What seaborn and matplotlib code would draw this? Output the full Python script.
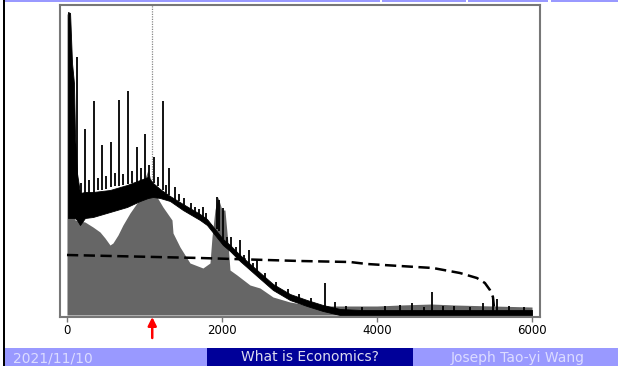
import matplotlib
matplotlib.use("Agg")
import matplotlib.pyplot as plt
import seaborn as sns
import pandas as pd
from matplotlib.patches import Rectangle

# ---------------- data ----------------
gray_x = [0, 40, 80, 103, 232, 335, 426, 490, 555, 593, 658, 722, 813, 903, 980, 1006,
          1045, 1097, 1161, 1238, 1355, 1368, 1458, 1587, 1754, 1845, 1871, 1909, 1948,
          2000, 2038, 2077, 2103, 2193, 2361, 2490, 2658, 2877, 3174, 3522, 4000, 4300,
          4700, 5000, 5500, 6000]
gray_y = [300, 290, 150, 93, 91, 86, 81, 75, 68, 70, 78, 88, 100, 110, 115, 135,
          143, 130, 116, 106, 93, 80, 66, 50, 45, 50, 76, 103, 116,
          103, 103, 70, 43, 38, 28, 25, 16, 11, 7, 7, 7, 8,
          9, 8, 7, 6]
gray_base = -2

band_x = [13, 40, 65, 90, 103, 129, 168, 232, 335, 555, 774, 942, 1045, 1110, 1200,
          1329, 1496, 1716, 1806, 1909, 2012, 2103, 2232, 2451, 2658, 2877, 3096, 3302,
          3522, 3800, 4296, 5000, 6000]
band_hi = [301, 300, 250, 230, 180, 140, 120, 121, 121, 123, 128, 133, 136, 130, 124,
           117, 109, 99, 94, 84, 74, 68, 58, 43, 29, 19, 13, 8,
           4, 3, 3, 3, 3]
band_lo = [95, 95, 95, 95, 95, 93, 88, 95, 96, 101, 106, 112, 115, 116, 115,
           112, 103, 93, 88, 78, 68, 62, 52, 37, 23, 13, 7, 2,
           -2, -2, -2, -2, -2]

spike_x = [129, 232, 348, 452, 568, 671, 787, 903, 1006, 1122, 1238, 1316, 1394, 1509,
           1651, 1754, 1935, 1961, 2012, 2116, 2232, 2348, 2451, 3328, 3457, 4451, 4709,
           4992, 5366, 5496, 5547,
           180, 280, 400, 500, 620, 720, 840, 950, 1060, 1180, 1280, 1450, 1600, 1700,
           1800, 2060, 2180, 2290, 2400, 2550, 2700, 2850, 3000, 3150, 3600, 3800, 4100,
           4300, 4600, 4850, 5200, 5700, 5900]
spike_base = [118, 118, 120, 123, 126, 127, 129, 131, 133, 130, 123, 118, 113, 108,
              101, 96, 84, 82, 74, 66, 57, 49, 42, 6, 3, 2, 2,
              2, 2, 2, 2,
              118, 120, 123, 124, 127, 128, 130, 132, 133, 127, 120, 112, 104, 98,
              94, 70, 61, 53, 45, 35, 26, 19, 15, 11, 3, 2, 2,
              2, 2, 2, 2, 2, 2]
spike_top = [256, 184, 212, 168, 171, 213, 222, 166, 179, 156, 212, 145, 126, 115,
             106, 106, 116, 113, 105, 76, 73, 63, 53, 30, 11, 10, 21,
             7, 10, 15, 14,
             130, 133, 135, 137, 140, 139, 142, 145, 148, 136, 128, 119, 110, 104,
             100, 76, 66, 58, 50, 40, 31, 24, 19, 15, 7, 6, 7,
             8, 6, 7, 6, 7, 6]

dash_x = [0, 1716, 3006, 3651, 3870, 4721, 5070, 5289, 5392, 5457, 5496, 5509]
dash_y = [58, 55, 52, 51, 49, 45, 40, 35, 30, 23, 16, 6]

marker_x = 1100
xticks = [0, 2000, 4000, 6000]
footer_texts = ["2021/11/10", "What is Economics?", "Joseph Tao-yi Wang"]

# ---------------- figure ----------------
sns.set_style("white")
plt.rcParams['font.family'] = ['DejaVu Sans']
fig = plt.figure(figsize=(6.18, 3.66), dpi=100)
W, H = 618.0, 366.0
ax = fig.add_axes([60 / W, 1 - 317 / H, 480 / W, 312 / H])

ax.axvline(marker_x, color="#888888", lw=0.9, ls=(0, (1, 1)), zorder=0.5)

ax.fill_between(gray_x, gray_base, gray_y, color="#666666", lw=0, zorder=1)
ax.fill_between(band_x, band_lo, band_hi, color="black", lw=0.6, zorder=2)
ax.vlines(spike_x, spike_base, spike_top, color="black", lw=1.3, zorder=2)

dash_df = pd.DataFrame({"x": dash_x, "y": dash_y})
sns.lineplot(data=dash_df, x="x", y="y", ax=ax, color="black", lw=1.8,
             estimator=None, sort=False, zorder=3)
ax.lines[-1].set_dashes([4.5, 2.2])

ax.set_xlim(-90, 6103)
ax.set_ylim(-4, 308)
ax.set_xticks(xticks)
ax.set_xticklabels([str(t) for t in xticks])
ax.set_yticks([])
ax.set_xlabel("")
ax.set_ylabel("")
ax.tick_params(axis="x", bottom=True, length=3.5, width=1, color="#777777",
               labelsize=8.5, pad=1.5, labelcolor="black")
for s in ax.spines.values():
    s.set_color("#777777")
    s.set_linewidth(1.5)

# red arrow below the axis
ax.annotate("", xy=(marker_x, -4), xytext=(marker_x, -25), xycoords="data",
            textcoords="data",
            arrowprops=dict(arrowstyle="-|>,head_length=0.5,head_width=0.25",
                            color="#ff0000", lw=1.8, shrinkA=0, shrinkB=0),
            annotation_clip=False)

# ---------------- slide decorations ----------------
def frect(x0, y0, x1, y1, color):
    fig.patches.append(Rectangle((x0 / W, 1 - y1 / H), (x1 - x0) / W, (y1 - y0) / H,
                                 transform=fig.transFigure, color=color, lw=0,
                                 zorder=0))

light = "#9999ff"
dark = "#000099"
# top bar
frect(5, 0, 380, 2.2, light)
frect(382, 0, 466, 2.2, light)
frect(468, 0, 548, 2.2, light)
frect(551, 0, 618, 2.2, light)
# left border
frect(3, 0, 5, 366, "black")
# footer
frect(5, 348, 207, 366, light)
frect(207, 348, 413, 366, dark)
frect(413, 348, 618, 366, light)

fig.text(13 / W, 1 - 358 / H, footer_texts[0], color="#dcdcff", fontsize=10,
         ha="left", va="center")
fig.text(310 / W, 1 - 357 / H, footer_texts[1], color="#dcdcf0", fontsize=10,
         ha="center", va="center")
fig.text(518 / W, 1 - 358 / H, footer_texts[2], color="#dcdcff", fontsize=10,
         ha="center", va="center")

fig.savefig("out.png", dpi=100)
